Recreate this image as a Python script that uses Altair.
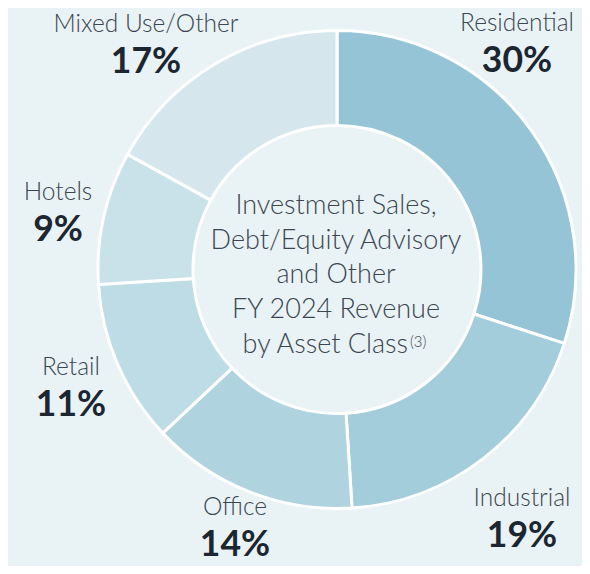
import altair as alt
import pandas as pd

# ---- data ----
categories = ["Residential", "Industrial", "Office", "Retail", "Hotels", "Mixed Use/Other"]
values = [30, 19, 14, 11, 9, 17]
center_lines = ["Investment Sales,", "Debt/Equity Advisory", "and Other", "FY 2024 Revenue"]
last_line = "by Asset Class"
footnote = "(3)"

# ---- styles / layout ----
colors = ["#94c4d5", "#a4cddb", "#afd3df", "#bddce5", "#c9e2ea", "#d5e7ed"]
BG = "#e9f2f5"
CX, CY = 329, 261.5
label_layout = {
    "Residential": (509, 23),
    "Industrial": (514, 498),
    "Office": (227, 507),
    "Retail": (63, 367),
    "Hotels": (50, 192),
    "Mixed Use/Other": (138, 24),
}
center_baselines = [206, 241, 275, 310]

df = pd.DataFrame({"category": categories, "value": values, "order": list(range(len(categories)))})

arcs = alt.Chart(df).mark_arc(
    innerRadius=144, outerRadius=239, stroke="white", strokeWidth=3
).encode(
    theta=alt.Theta("value:Q", stack=True),
    order=alt.Order("order:Q"),
    color=alt.Color("category:N", scale=alt.Scale(domain=categories, range=colors), legend=None),
    x=alt.value(CX),
    y=alt.value(CY),
)

lab = pd.DataFrame({
    "category": categories,
    "pct": [f"{v}%" for v in values],
    "lx": [label_layout[c][0] for c in categories],
    "ly": [label_layout[c][1] for c in categories],
})

names = alt.Chart(lab).mark_text(
    font="Lato", fontWeight=300, fontSize=24.5, color="#3b4650", align="center", baseline="alphabetic"
).encode(
    x=alt.X("lx:Q", scale=None, axis=None),
    y=alt.Y("ly:Q", scale=None, axis=None),
    text="category:N",
)

pcts = alt.Chart(lab).mark_text(
    font="Lato", fontWeight="bold", fontSize=35.5, color="#1b2631", align="center", baseline="alphabetic", dy=41
).encode(
    x=alt.X("lx:Q", scale=None, axis=None),
    y=alt.Y("ly:Q", scale=None, axis=None),
    text="pct:N",
)

cdf = pd.DataFrame({"line": center_lines, "ly": center_baselines})
center = alt.Chart(cdf).mark_text(
    font="Lato", fontWeight=300, fontSize=27, color="#3b4650", align="center", baseline="alphabetic"
).encode(
    x=alt.value(CX - 1),
    y=alt.Y("ly:Q", scale=None, axis=None),
    text="line:N",
)

last_df = pd.DataFrame({"line": [last_line], "note": [footnote]})
last = alt.Chart(last_df).mark_text(
    font="Lato", fontWeight=300, fontSize=27, color="#3b4650", align="right", baseline="alphabetic"
).encode(
    x=alt.value(CX + 71),
    y=alt.value(345),
    text="line:N",
)
note = alt.Chart(last_df).mark_text(
    font="Lato", fontWeight=300, fontSize=15, color="#3b4650", align="left", baseline="alphabetic"
).encode(
    x=alt.value(CX + 73),
    y=alt.value(339),
    text="note:N",
)

chart = alt.layer(arcs, names, pcts, center, last, note).properties(
    width=574, height=558, background=BG, padding=0, autosize=alt.AutoSizeParams(type="none")
).configure_view(stroke=None)

chart.save("out.html", embed_options={"renderer": "svg", "actions": False})
